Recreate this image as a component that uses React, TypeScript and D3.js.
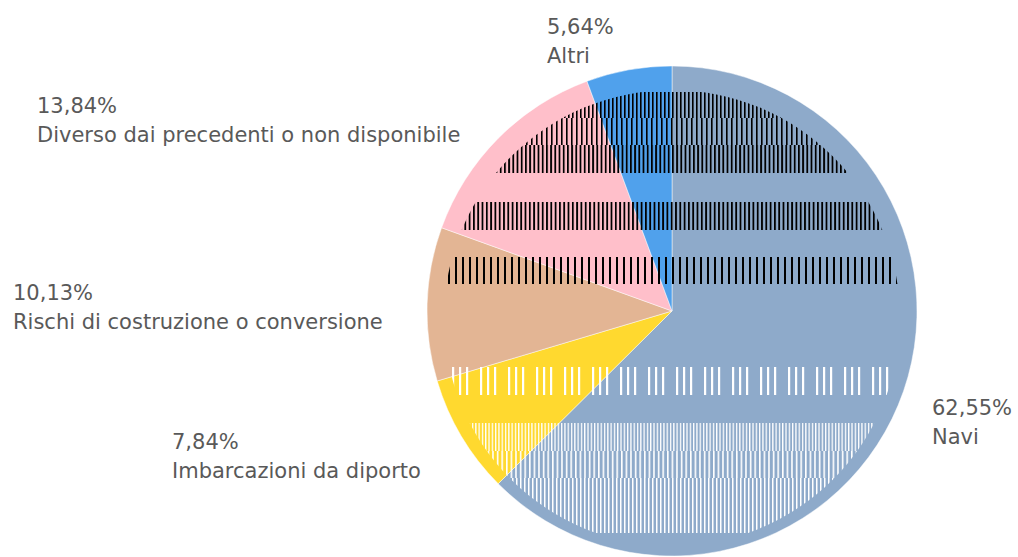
import React from "react";
import * as d3 from "d3";

const categories = [
  "Navi",
  "Imbarcazioni da diporto",
  "Rischi di costruzione o conversione",
  "Diverso dai precedenti o non disponibile",
  "Altri",
];
const values = [62.55, 7.84, 10.13, 13.84, 5.64];
const colors = ["#8EAACA", "#FFD92F", "#E3B594", "#FFBFCA", "#50A1EC"];

const W = 1018;
const H = 557;
const cx = 672;
const cy = 311;
const R = 245;

// decorative stripe bands (rendering texture in the reference)
const stripeBands = [
  { y0: 92, y1: 118, color: "#000", period: 4, w: 1.6, off: 0 },
  { y0: 118, y1: 145, color: "#000", period: 5, w: 1.6, off: 1 },
  { y0: 145, y1: 173, color: "#000", period: 4.2, w: 1.8, off: 0 },
  { y0: 202, y1: 230, color: "#000", period: 4.3, w: 1.8, off: 0 },
  { y0: 257, y1: 284, color: "#000", period: 7, w: 2, off: 0 },
  { y0: 423, y1: 451, color: "#fff", period: 3.3, w: 1.3, off: 0 },
  { y0: 451, y1: 478, color: "#fff", period: 4.6, w: 1.6, off: 0 },
  { y0: 478, y1: 533, color: "#fff", period: 4, w: 1.5, off: 0 },
];

const labelPos = [
  { x: 932, y: 415 },
  { x: 172, y: 449 },
  { x: 13, y: 300 },
  { x: 37, y: 113 },
  { x: 547, y: 34 },
];

const fmt = (v: number) => v.toFixed(2).replace(".", ",") + "%";

export default function App() {
  const pie = d3.pie<number>().sort(null).value((d) => d)(values);
  const arc = d3.arc<d3.PieArcDatum<number>>().innerRadius(0).outerRadius(R);

  const clipR = 228;
  const clipCy = 318;

  return (
    <svg
      width={W}
      height={H}
      style={{ position: "absolute", left: 0, top: 0, display: "block" }}
      fontFamily="'DejaVu Sans', sans-serif"
    >
      <defs>
        <clipPath id="texClip">
          <circle cx={cx} cy={clipCy} r={clipR} />
        </clipPath>
        {stripeBands.map((b, i) => (
          <pattern
            key={i}
            id={`stripe${i}`}
            patternUnits="userSpaceOnUse"
            width={b.period}
            height={H}
            x={b.off}
          >
            <rect x={0} y={0} width={b.w} height={H} fill={b.color} />
          </pattern>
        ))}
        <pattern id="stripeGroup" patternUnits="userSpaceOnUse" width={28} height={H} x={4}>
          <rect x={0} y={0} width={2.2} height={H} fill="#fff" />
          <rect x={7} y={0} width={2.2} height={H} fill="#fff" />
          <rect x={14} y={0} width={2.2} height={H} fill="#fff" />
        </pattern>
      </defs>
      <g transform={`translate(${cx},${cy})`}>
        {pie.map((d, i) => (
          <path
            key={i}
            d={arc(d) || ""}
            fill={colors[i]}
            stroke="#ffffff"
            strokeOpacity={0.6}
            strokeWidth={0.8}
          />
        ))}
      </g>
      <g clipPath="url(#texClip)">
        {stripeBands.map((b, i) => (
          <rect
            key={i}
            x={cx - R}
            y={b.y0}
            width={2 * R}
            height={b.y1 - b.y0}
            fill={`url(#stripe${i})`}
          />
        ))}
        <rect x={cx - R} y={367} width={2 * R} height={28} fill="url(#stripeGroup)" />
      </g>
      <g fill="#595959" fontSize={21}>
        {categories.map((c, i) => (
          <g key={c}>
            <text x={labelPos[i].x} y={labelPos[i].y}>
              {fmt(values[i])}
            </text>
            <text x={labelPos[i].x} y={labelPos[i].y + 29}>
              {c}
            </text>
          </g>
        ))}
      </g>
    </svg>
  );
}
